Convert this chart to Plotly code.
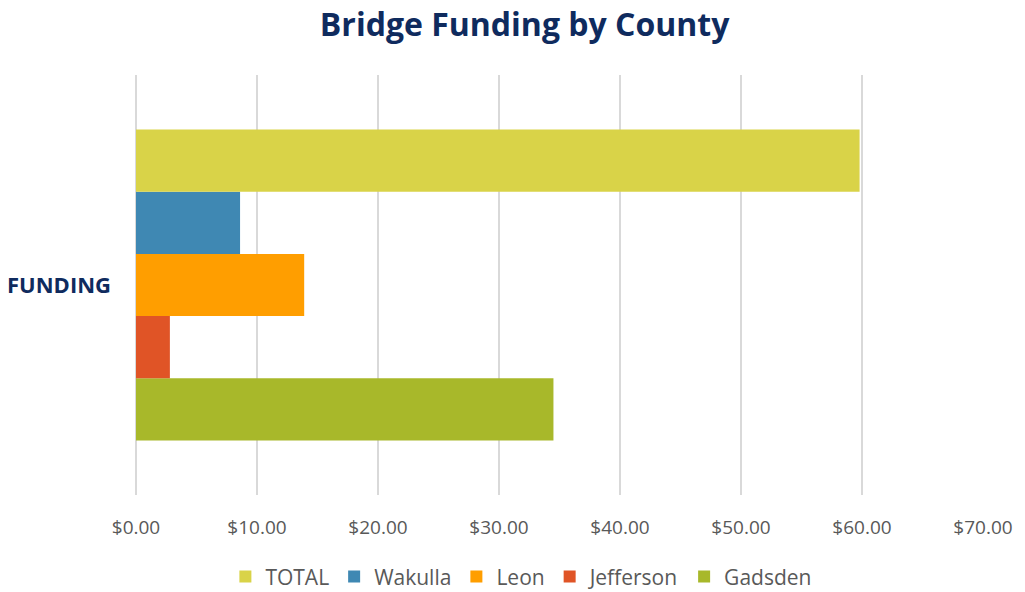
import plotly.graph_objects as go

categories = ["FUNDING"]
series_names = ["Gadsden", "Jefferson", "Leon", "Wakulla", "TOTAL"]
series_values = [[34.5], [2.8], [13.9], [8.6], [59.8]]
series_colors = ["#A8B82A", "#E05426", "#FF9E00", "#3F88B3", "#D9D348"]
tick_vals = [0, 10, 20, 30, 40, 50, 60, 70]
tick_text = ["$0.00", "$10.00", "$20.00", "$30.00", "$40.00", "$50.00", "$60.00", "$70.00"]

fig = go.Figure()
for name, vals, col in zip(series_names, series_values, series_colors):
    fig.add_trace(go.Bar(y=categories, x=vals, name=name, orientation="h",
                         marker=dict(color=col, line=dict(width=0))))

fig.update_layout(
    width=1017, height=584,
    barmode="group", bargap=0.26, bargroupgap=0,
    paper_bgcolor="white", plot_bgcolor="white",
    margin=dict(l=128, r=42, t=67, b=97),
    title=dict(text="<b>Bridge Funding by County</b>", x=0.508, xanchor="center",
               yref="container", y=0.971, yanchor="middle",
               font=dict(family="Open Sans", size=32, color="#0F2B5E")),
    font=dict(family="Open Sans", color="#595959"),
    legend=dict(orientation="h", traceorder="reversed", x=0.455, xanchor="center",
                yref="container", y=0.026, yanchor="middle",
                font=dict(family="Open Sans", size=21, color="#595959"),
                itemwidth=30),
    xaxis=dict(range=[0, 70], tickvals=tick_vals, ticktext=tick_text, automargin=False,
               showgrid=True, gridcolor="#D9D9D9", gridwidth=2,
               zeroline=True, zerolinecolor="#D9D9D9", zerolinewidth=2,
               showline=False, ticks="", ticklabelstandoff=19,
               tickfont=dict(family="Open Sans", size=19, color="#595959")),
    yaxis=dict(showgrid=False, showline=False, ticks="", ticklabelstandoff=24, automargin=False,
               tickfont=dict(family="Open Sans", size=22, color="#0F2B5E", weight="bold")),
)

fig.write_html("out.html")
